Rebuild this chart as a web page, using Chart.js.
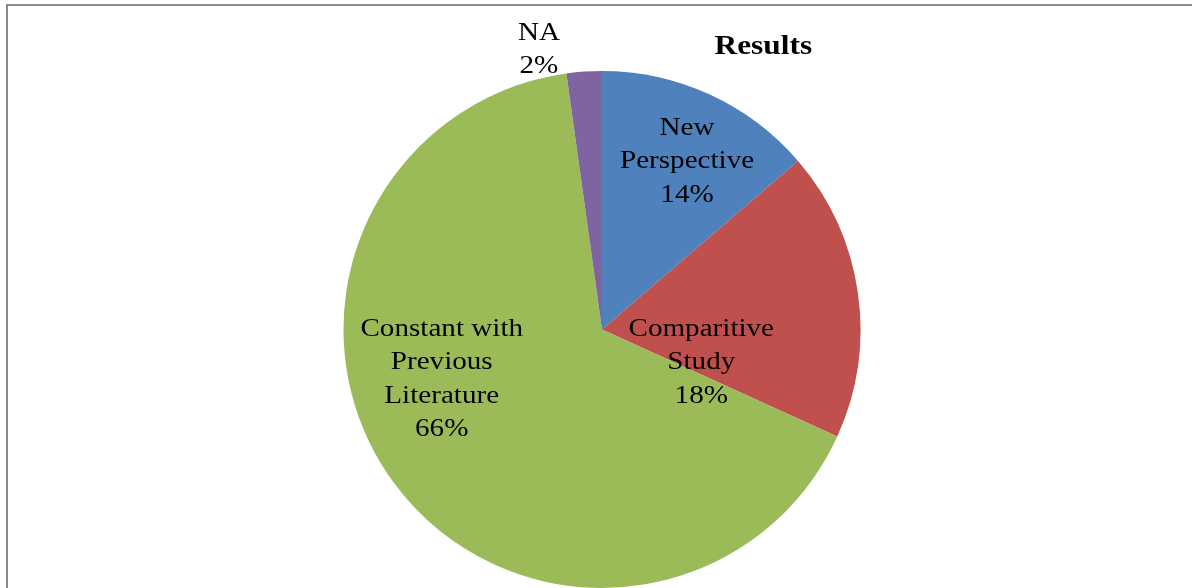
<!DOCTYPE html>
<html>
<head>
<meta charset="utf-8">
<script src="https://cdn.jsdelivr.net/npm/chart.js@4.4.1/dist/chart.umd.min.js"></script>
<style>
  html, body { margin: 0; padding: 0; background: #fff; }
  #wrap { width: 1192px; height: 588px; position: relative; }
</style>
</head>
<body>
<div id="wrap"><canvas id="c" width="1192" height="588"></canvas></div>
<script>
// ---- data ----
const categories = ["New Perspective", "Comparitive Study", "Constant with Previous Literature", "NA"];
const labelLines = [["New", "Perspective"], ["Comparitive", "Study"], ["Constant with", "Previous", "Literature"], ["NA"]];
const values = [13.7, 18.1, 66.0, 2.2];
const colors = ["#4F81BD", "#C0504D", "#9BBB59", "#8064A2"];
const chartTitle = "Results";

// label anchor offsets, in units of the pie radius, relative to its centre
const labelAnchors = [[0.329, -0.651], [0.384, 0.128], [-0.620, 0.193], [-0.244, -1.083]];

const FONT = '"Liberation Serif", "Times New Roman", serif';
const SX = 1.12; // horizontal stretch of the source text

const framePlugin = {
  id: 'frame',
  beforeDraw(chart) {
    const ctx = chart.ctx;
    ctx.save();
    ctx.fillStyle = '#fff';
    ctx.fillRect(0, 0, chart.width, chart.height);
    ctx.strokeStyle = '#8a8a8a';
    ctx.lineWidth = 2;
    ctx.beginPath();
    ctx.moveTo(7, chart.height);
    ctx.lineTo(7, 5);
    ctx.lineTo(chart.width, 5);
    ctx.stroke();
    ctx.restore();
  }
};

function drawStretched(ctx, text, x, y) {
  ctx.save();
  ctx.translate(x, y);
  ctx.scale(SX, 1);
  ctx.fillText(text, 0, 0);
  ctx.restore();
}

const labelPlugin = {
  id: 'sliceLabels',
  afterDatasetsDraw(chart) {
    const ctx = chart.ctx;
    const meta = chart.getDatasetMeta(0);
    const data = chart.data.datasets[0].data;
    const total = data.reduce((a, b) => a + b, 0);
    ctx.save();
    ctx.fillStyle = '#000';
    ctx.textAlign = 'center';
    ctx.textBaseline = 'middle';
    ctx.font = '26px ' + FONT;
    const lh = 33.5;
    meta.data.forEach((arc, i) => {
      const r = arc.outerRadius;
      const cx = arc.x + labelAnchors[i][0] * r;
      const cy = arc.y + labelAnchors[i][1] * r;
      const lines = labelLines[i].concat([Math.round(data[i] / total * 100) + '%']);
      const y0 = cy - (lines.length - 1) * lh / 2;
      lines.forEach((t, k) => drawStretched(ctx, t, cx, y0 + k * lh));
    });
    // title
    ctx.font = 'bold 28px ' + FONT;
    drawStretched(ctx, chartTitle, meta.data[0].x + 0.624 * meta.data[0].outerRadius, 47);
    ctx.restore();
  }
};

new Chart(document.getElementById('c'), {
  type: 'pie',
  data: {
    labels: categories,
    datasets: [{
      data: values,
      backgroundColor: colors,
      borderWidth: 0
    }]
  },
  options: {
    responsive: false,
    animation: false,
    layout: { padding: { top: 71, bottom: 0, left: 12, right: 0 } },
    plugins: {
      legend: { display: false },
      title: { display: false },
      tooltip: { enabled: false }
    }
  },
  plugins: [framePlugin, labelPlugin]
});
</script>
</body>
</html>
